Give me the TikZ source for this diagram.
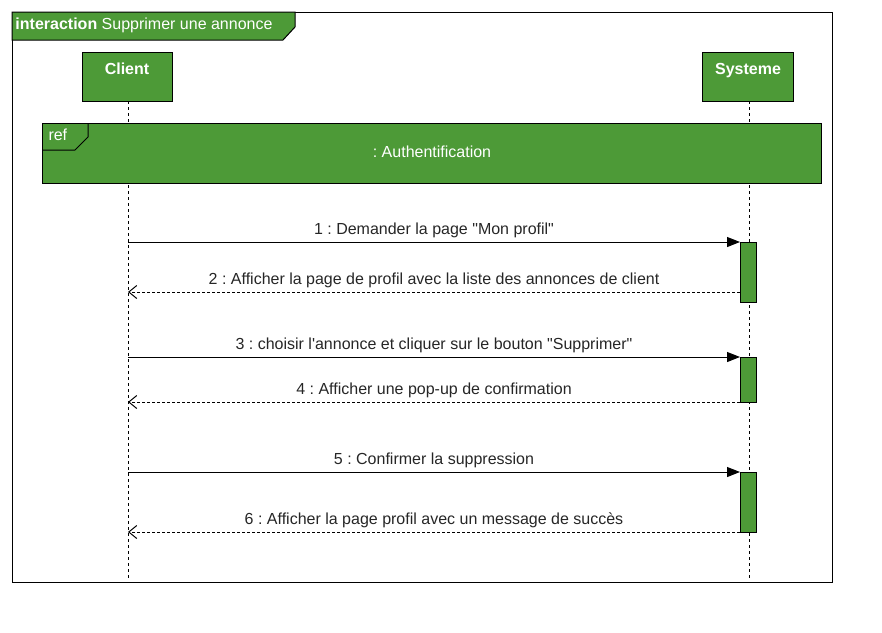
\documentclass[tikz,border=0pt]{standalone}
\usepackage{fontspec}
\setmainfont{Liberation Sans}
\usetikzlibrary{arrows.meta}
\definecolor{umlgreen}{HTML}{4D9A37}

\begin{document}
\frenchspacing
\begin{tikzpicture}[x=1pt, y=-1pt, line width=1pt, font=\fontsize{16}{19}\selectfont]
  \useasboundingbox (0,0) rectangle (882,632);
  \tikzset{
    lifeline/.style={dash pattern=on 3pt off 3pt, black},
    callmsg/.style={-{Triangle[length=13pt, width=10pt]}, black},
    replymsg/.style={-{Straight Barb[length=8pt, width=13pt]}, dash pattern=on 3pt off 2pt, black},
    actor/.style={draw=black, fill=umlgreen},
    lbl/.style={text=black!85, inner sep=2pt, above=2pt}
  }
  % frame
  \draw [black] (12,12) rectangle (832,582);
  \filldraw [actor] (12,12) -- (295,12) -- (295,27) -- (283,40) -- (12,40) -- cycle;
  \node (title) [anchor=west, text=white, inner sep=0pt] at (15,25) {\textbf{interaction} Supprimer une annonce};
  % lifelines
  \filldraw [actor] (82,52) rectangle (172,101);
  \filldraw [actor] (702,52) rectangle (793,101);
  \node (client) [anchor=base, text=white, font=\fontsize{16}{19}\selectfont\bfseries] at (127,74) {Client};
  \node (systeme) [anchor=base, text=white, font=\fontsize{16}{19}\selectfont\bfseries] at (748,74) {Systeme};
  \coordinate (ctop) at (128,101);
  \coordinate (cbot) at (128,580);
  \coordinate (stop) at (749,101);
  \coordinate (sbot) at (749,580);
  \draw [lifeline] (ctop) -- (cbot);
  \draw [lifeline] (stop) -- (sbot);
  % ref
  \filldraw [actor] (42,123) rectangle (821,183);
  \draw [black] (42,150) -- (75,150) -- (88,137) -- (88,123);
  \node (ref) [anchor=west, text=white, inner sep=0pt] at (48,135) {ref};
  \node (auth) [text=white] at (432,152) {: Authentification};
  % activations
  \filldraw [actor] (740,242) rectangle (756,302);
  \filldraw [actor] (740,357) rectangle (756,402);
  \filldraw [actor] (740,472) rectangle (756,532);
  % messages
  \coordinate (c1) at (128,242); \coordinate (s1) at (740,242);
  \coordinate (c2) at (128,292); \coordinate (s2) at (740,292);
  \coordinate (c3) at (128,357); \coordinate (s3) at (740,357);
  \coordinate (c4) at (128,402); \coordinate (s4) at (740,402);
  \coordinate (c5) at (128,472); \coordinate (s5) at (740,472);
  \coordinate (c6) at (128,532); \coordinate (s6) at (740,532);
  \draw [callmsg] (c1) -- (s1) node [midway, lbl] {1 : Demander la page \textquotedbl Mon profil\textquotedbl};
  \draw [replymsg] (s2) -- (c2) node [midway, lbl] {2 : Afficher la page de profil avec la liste des annonces de client};
  \draw [callmsg] (c3) -- (s3) node [midway, lbl] {3 : choisir l\textquotesingle annonce et cliquer sur le bouton \textquotedbl Supprimer\textquotedbl};
  \draw [replymsg] (s4) -- (c4) node [midway, lbl] {4 : Afficher une pop-up de confirmation};
  \draw [callmsg] (c5) -- (s5) node [midway, lbl] {5 : Confirmer la suppression};
  \draw [replymsg] (s6) -- (c6) node [midway, lbl] {6 : Afficher la page profil avec un message de succès};
\end{tikzpicture}
\end{document}
